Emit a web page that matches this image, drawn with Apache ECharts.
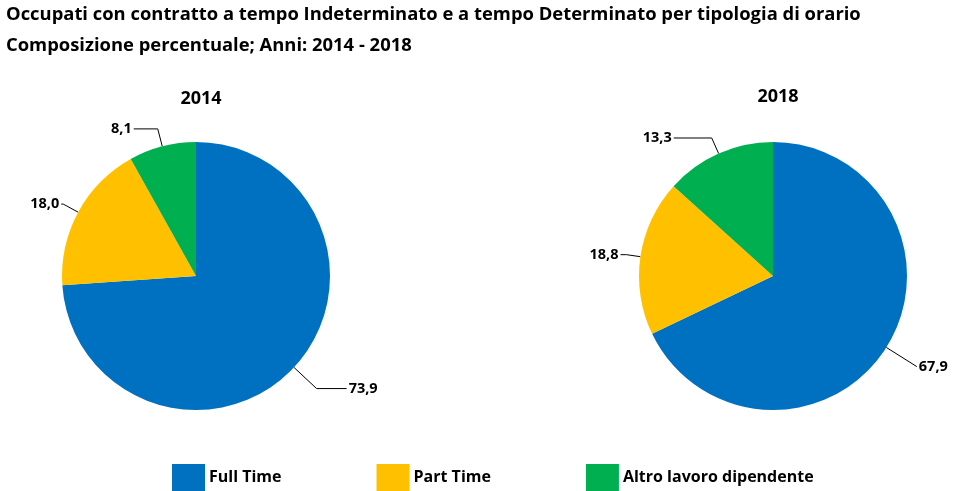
<!DOCTYPE html>
<html><head><meta charset="utf-8">
<script src="https://cdn.jsdelivr.net/npm/echarts@6/dist/echarts.min.js"></script>
<style>html,body{margin:0;padding:0;background:#fff}#c{width:954px;height:491px}</style>
</head><body><div id="c"></div>
<script>
const categories = ['Full Time', 'Part Time', 'Altro lavoro dipendente'];
const years = ['2014', '2018'];
const values2014 = [73.9, 18.0, 8.1];
const values2018 = [67.9, 18.8, 13.3];
const colors = ['#0070C0', '#FFC000', '#00B050'];
const FONT = '"Open Sans", "Liberation Sans", sans-serif';

// leader-line lengths per slice [radial, horizontal]
const lines2014 = [[31, 30], [17, 2], [18, 24]];
const lines2018 = [[36, 0], [14, 6], [17, 38]];

function makeData(vals, lines) {
  return categories.map((name, i) => ({
    name, value: vals[i],
    labelLine: { length: lines[i][0], length2: lines[i][1] }
  }));
}
function pie(vals, lines, cx) {
  return {
    type: 'pie', radius: 134, center: [cx, 276],
    startAngle: 90, clockwise: true, silent: true,
    itemStyle: { borderWidth: 0 },
    label: {
      show: true, position: 'outside', color: '#000', fontFamily: FONT,
      fontWeight: 'bold', fontSize: 14.5, distanceToLabelLine: 2, overflow: 'none',
      formatter: p => p.value.toFixed(1).replace('.', ',')
    },
    labelLine: { show: true, lineStyle: { color: '#000', width: 1 } },
    data: makeData(vals, lines)
  };
}
const chart = echarts.init(document.getElementById('c'));
chart.setOption({
  animation: false,
  color: colors,
  title: [
    { text: 'Occupati con contratto a tempo Indeterminato e a tempo Determinato per tipologia di orario\nComposizione percentuale; Anni: 2014 - 2018',
      left: 1, top: -6,
      textStyle: { fontFamily: FONT, fontWeight: 'bold', fontSize: 18.4, lineHeight: 31, color: '#000' } },
    { text: years[0], left: 196, top: 85, textAlign: 'center',
      textStyle: { fontFamily: FONT, fontWeight: 'bold', fontSize: 18, color: '#000' } },
    { text: years[1], left: 773, top: 83, textAlign: 'center',
      textStyle: { fontFamily: FONT, fontWeight: 'bold', fontSize: 18, color: '#000' } }
  ],
  legend: {
    data: categories, left: 167, top: 459, icon: 'rect',
    itemWidth: 33, itemHeight: 27, itemGap: 95, selectedMode: false,
    textStyle: { fontFamily: FONT, fontWeight: 'bold', fontSize: 16, color: '#000', padding: [0, 0, 0, -1] }
  },
  series: [pie(values2014, lines2014, 196), pie(values2018, lines2018, 773)]
});
</script></body></html>
